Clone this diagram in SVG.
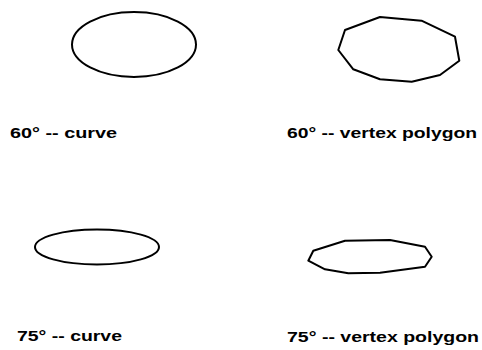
<svg xmlns="http://www.w3.org/2000/svg" width="482" height="350" viewBox="0 0 482 350">
<style>
.s{fill:none;stroke:#000;stroke-width:2;stroke-linejoin:round}
.t{font-family:"Liberation Sans",Arial,sans-serif;font-weight:bold;font-size:14px;fill:#000}
</style>
<rect width="482" height="350" fill="#fff"/>
<g id="curve60">
<ellipse class="s" cx="134" cy="44.5" rx="62" ry="32.5"/>
<text class="t" x="10" y="138" textLength="107" lengthAdjust="spacingAndGlyphs">60° -- curve</text>
</g>
<g id="poly60">
<polygon class="s" points="345,30 380,17 421.5,20.7 455,36.7 459.3,60.7 440,75 411.7,81.7 380,79.3 353.3,69.3 338.3,50"/>
<text class="t" x="287" y="138" textLength="190" lengthAdjust="spacingAndGlyphs">60° -- vertex polygon</text>
</g>
<g id="curve75">
<ellipse class="s" cx="97" cy="247" rx="62" ry="17.5"/>
<text class="t" x="17" y="341" textLength="105" lengthAdjust="spacingAndGlyphs">75° -- curve</text>
</g>
<g id="poly75">
<polygon class="s" points="308.3,260.7 313.3,250.7 345,240.7 390,240 425,246.7 431.7,256.7 425,266.7 380,272.7 348.3,273.3 325,269.3"/>
<text class="t" x="287" y="342" textLength="192" lengthAdjust="spacingAndGlyphs">75° -- vertex polygon</text>
</g>
</svg>
